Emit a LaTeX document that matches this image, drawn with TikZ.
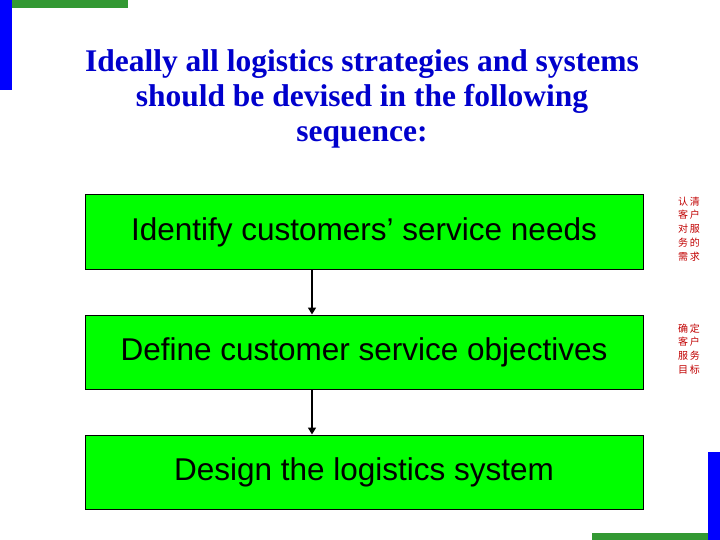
\documentclass[tikz,border=0pt]{standalone}
\usepackage{fontspec}
\setmainfont{Liberation Serif}
\setsansfont{Liberation Sans}
\newfontfamily\cjk{Noto Sans CJK SC}
\usepackage{tikz}
\usetikzlibrary{arrows.meta, positioning}
\definecolor{titleblue}{RGB}{0,0,204}
\definecolor{barblue}{RGB}{0,0,255}
\definecolor{bargreen}{RGB}{51,153,51}
\definecolor{boxgreen}{RGB}{0,255,0}
\definecolor{notered}{RGB}{192,0,0}
\tikzset{
  stepbox/.style={draw=black, fill=boxgreen, line width=1pt, minimum width=558pt,
    minimum height=74pt, inner sep=0pt, font=\sffamily\fontsize{31.5}{36}\selectfont},
  note/.style={text=notered, align=center, font=\cjk\fontsize{10}{13.8}\selectfont},
  flow/.style={-{Triangle[length=7pt,width=8pt]}, line width=1.6pt},
}

\begin{document}
\begin{tikzpicture}[x=1pt, y=-1pt]
  \useasboundingbox (0,0) rectangle (720,540);
  % corner bars
  \fill[barblue] (0,0) rectangle (12,90);
  \fill[bargreen] (12,0) rectangle (128,8);
  \fill[barblue] (708,452) rectangle (720,540);
  \fill[bargreen] (592,533) rectangle (708,540);

  \node (title) [text=titleblue, align=center, font=\bfseries\fontsize{31.5}{35}\selectfont]
    at (362,99) {Ideally all logistics strategies and systems\\should be devised in the following\\sequence:};

  \node (needs) [stepbox] at (364,232) {Identify customers’ service needs};
  \node (objectives) [stepbox, below=45pt of needs] {Define customer service objectives};
  \node (system) [stepbox, below=45pt of objectives] {Design the logistics system};

  \draw[flow] (needs.south -| 312,0) -- (objectives.north -| 312,0);
  \draw[flow] (objectives.south -| 312,0) -- (system.north -| 312,0);

  \node (noteA) [note] at (689,229) {认\,清\\客\,户\\对\,服\\务\,的\\需\,求};
  \node (noteB) [note] at (689,349) {确\,定\\客\,户\\服\,务\\目\,标};
\end{tikzpicture}
\end{document}
